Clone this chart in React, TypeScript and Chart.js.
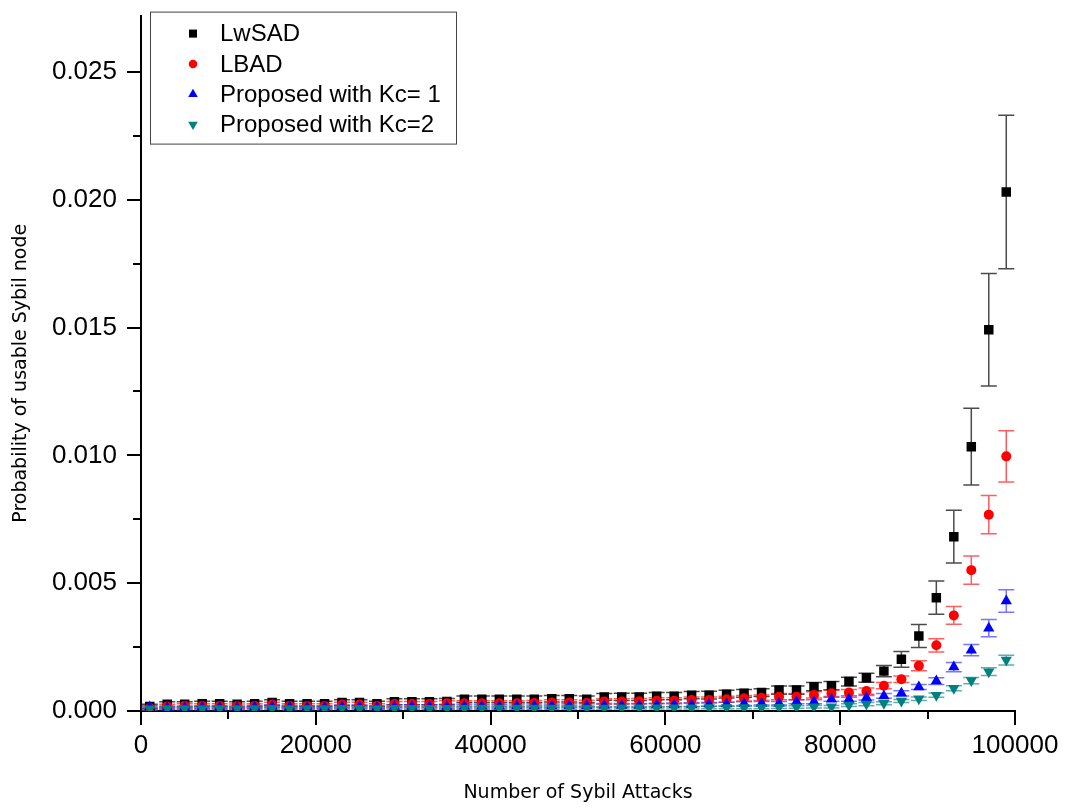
import React, { useEffect, useRef } from 'react';
import { Chart, registerables } from 'chart.js';
import { drawPoint } from 'chart.js/helpers';

Chart.register(...registerables);

// Number of Sybil attacks (x positions of every measurement)
const attacks = [
  1000, 3000, 5000, 7000, 9000, 11000, 13000, 15000, 17000, 19000,
  21000, 23000, 25000, 27000, 29000, 31000, 33000, 35000, 37000, 39000,
  41000, 43000, 45000, 47000, 49000, 51000, 53000, 55000, 57000, 59000,
  61000, 63000, 65000, 67000, 69000, 71000, 73000, 75000, 77000, 79000,
  81000, 83000, 85000, 87000, 89000, 91000, 93000, 95000, 97000, 99000,
];

// Probability of a usable Sybil node, per scheme
const lwsad = [
  0.00018, 0.00026, 0.00026, 0.00028, 0.00028, 0.00026, 0.00028, 0.00033, 0.00028, 0.00028,
  0.00028, 0.00033, 0.00033, 0.00028, 0.00036, 0.00036, 0.00036, 0.00037, 0.00046, 0.00046,
  0.00046, 0.00046, 0.00046, 0.00048, 0.00048, 0.00046, 0.00055, 0.00055, 0.00055, 0.00058,
  0.00058, 0.00062, 0.00062, 0.00066, 0.00069, 0.00072, 0.00082, 0.00082, 0.00095, 0.00099,
  0.00115, 0.0013, 0.00156, 0.00202, 0.00293, 0.00443, 0.00682, 0.01034, 0.01491, 0.0203,
];
const lwsadErr = [
  0.00008, 0.0001, 0.0001, 0.0001, 0.0001, 0.0001, 0.0001, 0.00011, 0.0001, 0.0001,
  0.0001, 0.00011, 0.00011, 0.0001, 0.00012, 0.00012, 0.00012, 0.00012, 0.00013, 0.00013,
  0.00013, 0.00013, 0.00013, 0.00013, 0.00013, 0.00013, 0.00013, 0.00014, 0.00014, 0.00014,
  0.00014, 0.00014, 0.00015, 0.00015, 0.00015, 0.00015, 0.00016, 0.00016, 0.00016, 0.00016,
  0.00017, 0.00018, 0.00022, 0.00031, 0.00045, 0.00065, 0.00103, 0.0015, 0.0022, 0.003,
];

const lbad = [
  0.00012, 0.00018, 0.0002, 0.0002, 0.0002, 0.00019, 0.0002, 0.00025, 0.0002, 0.0002,
  0.0002, 0.00025, 0.00025, 0.0002, 0.00027, 0.00027, 0.00027, 0.0003, 0.0003, 0.0003,
  0.0003, 0.0003, 0.00031, 0.00033, 0.00033, 0.00031, 0.00037, 0.00037, 0.00038, 0.0004,
  0.0004, 0.00043, 0.00043, 0.00046, 0.0005, 0.00052, 0.00056, 0.00056, 0.00063, 0.00069,
  0.00072, 0.00078, 0.00099, 0.00124, 0.00177, 0.00257, 0.00374, 0.00551, 0.00768, 0.00996,
];
const lbadErr = [
  0.00006, 0.00008, 0.00008, 0.00008, 0.00008, 0.00008, 0.00008, 0.00009, 0.00008, 0.00008,
  0.00008, 0.00009, 0.00009, 0.00008, 0.0001, 0.0001, 0.0001, 0.0001, 0.0001, 0.0001,
  0.0001, 0.0001, 0.0001, 0.00011, 0.00011, 0.00011, 0.00011, 0.00011, 0.00011, 0.00012,
  0.00012, 0.00012, 0.00012, 0.00012, 0.00011, 0.00011, 0.00012, 0.00012, 0.00012, 0.00012,
  0.00012, 0.00012, 0.00012, 0.00013, 0.0002, 0.00026, 0.00035, 0.00055, 0.00075, 0.001,
];

const kc1 = [
  0.00016, 0.00014, 0.00014, 0.00015, 0.00015, 0.00014, 0.00016, 0.00018, 0.00016, 0.00015,
  0.00015, 0.00017, 0.00017, 0.00015, 0.00018, 0.00018, 0.00018, 0.00018, 0.00019, 0.00019,
  0.00019, 0.0002, 0.0002, 0.0002, 0.00021, 0.00021, 0.00022, 0.00022, 0.00022, 0.00023,
  0.00024, 0.00024, 0.00026, 0.00027, 0.00029, 0.0003, 0.0003, 0.00036, 0.00036, 0.00046,
  0.00046, 0.00052, 0.00059, 0.00069, 0.00094, 0.00117, 0.00172, 0.00238, 0.00324, 0.0043,
];
const kc1Err = [
  0.00006, 0.00006, 0.00006, 0.00006, 0.00006, 0.00006, 0.00006, 0.00006, 0.00006, 0.00006,
  0.00006, 0.00006, 0.00006, 0.00006, 0.00006, 0.00006, 0.00006, 0.00007, 0.00007, 0.00007,
  0.00007, 0.00007, 0.00007, 0.00007, 0.00007, 0.00007, 0.00007, 0.00007, 0.00007, 0.00007,
  0.00007, 0.00007, 0.00007, 0.00007, 0.00007, 0.00007, 0.00007, 0.00008, 0.00008, 0.00008,
  0.00008, 0.00009, 0.00009, 0.0001, 0.0001, 0.00013, 0.00018, 0.00022, 0.00034, 0.00044,
];

const kc2 = [
  0.00009, 0.0001, 0.0001, 0.0001, 0.0001, 0.0001, 0.0001, 0.00011, 0.0001, 0.0001,
  0.0001, 0.00011, 0.00011, 0.0001, 0.00011, 0.00011, 0.00011, 0.00011, 0.00012, 0.00012,
  0.00012, 0.00012, 0.00012, 0.00012, 0.00012, 0.00012, 0.00012, 0.00013, 0.00013, 0.00013,
  0.00013, 0.00013, 0.00014, 0.00014, 0.00014, 0.00014, 0.00015, 0.00016, 0.00017, 0.00017,
  0.00023, 0.00027, 0.0003, 0.00039, 0.00048, 0.00062, 0.00089, 0.00119, 0.00154, 0.00199,
];
const kc2Err = [
  0.00005, 0.00005, 0.00005, 0.00005, 0.00005, 0.00005, 0.00005, 0.00005, 0.00005, 0.00005,
  0.00005, 0.00005, 0.00005, 0.00005, 0.00005, 0.00005, 0.00005, 0.00005, 0.00005, 0.00005,
  0.00005, 0.00005, 0.00005, 0.00005, 0.00005, 0.00005, 0.00005, 0.00005, 0.00005, 0.00005,
  0.00005, 0.00005, 0.00005, 0.00005, 0.00005, 0.00005, 0.00005, 0.00005, 0.00005, 0.00005,
  0.00005, 0.00006, 0.00006, 0.00006, 0.00007, 0.00008, 0.0001, 0.00012, 0.00015, 0.00019,
];

const seriesLabels = ['LwSAD', 'LBAD', 'Proposed with Kc= 1', 'Proposed with Kc=2'];
const seriesValues = [lwsad, lbad, kc1, kc2];
const seriesErrors = [lwsadErr, lbadErr, kc1Err, kc2Err];
const seriesColors = ['#000000', '#ff0000', '#0000ff', '#008080'];
const errorColors = [
  'rgba(30,30,30,0.8)',
  'rgba(255,40,40,0.75)',
  'rgba(60,60,255,0.7)',
  'rgba(30,140,140,0.7)',
];
const pointStyles = ['rect', 'circle', 'triangle', 'triangle'] as const;
const pointRadii = [6.7, 5, 6.5, 6.5];
const pointRotations = [0, 0, 0, 180];

const xTitle = 'Number of Sybil Attacks';
const yTitle = 'Probability of usable Sybil node';

const X_MAX = 100000;
const X_STEP = 10000;
const X_LABEL_STEP = 20000;
const Y_MAX = 0.0272;
const Y_STEP = 0.0025;
const Y_LABEL_STEP = 0.005;

const labelFont = "'Liberation Sans', Arial, sans-serif";
const titleFont = "'DejaVu Sans', Verdana, sans-serif";

const isMultiple = (v: number, step: number) =>
  Math.abs(Math.round(v / step) * step - v) < step * 1e-6;

// Vertical error bars with caps, drawn under the markers
const errorBars = {
  id: 'errorBars',
  beforeDatasetsDraw(chart: any) {
    const { ctx } = chart;
    const xs = chart.scales.x;
    const ys = chart.scales.y;
    ctx.save();
    ctx.lineWidth = 1.5;
    chart.data.datasets.forEach((ds: any, i: number) => {
      const errs = seriesErrors[i];
      ctx.strokeStyle = errorColors[i];
      ctx.beginPath();
      ds.data.forEach((p: any, j: number) => {
        const px = xs.getPixelForValue(p.x);
        const top = ys.getPixelForValue(p.y + errs[j]);
        const bot = ys.getPixelForValue(Math.max(0, p.y - errs[j]));
        ctx.moveTo(px, top);
        ctx.lineTo(px, bot);
        ctx.moveTo(px - 8, top);
        ctx.lineTo(px + 8, top);
        ctx.moveTo(px - 8, bot);
        ctx.lineTo(px + 8, bot);
      });
      ctx.stroke();
    });
    ctx.restore();
  },
};

// Outward tick marks (long on labelled ticks, short between them), y title and the legend box
const axisDecor = {
  id: 'axisDecor',
  afterDraw(chart: any) {
    const { ctx, chartArea } = chart;
    const xs = chart.scales.x;
    const ys = chart.scales.y;
    ctx.save();
    ctx.strokeStyle = '#000';
    ctx.lineWidth = 2;
    ctx.beginPath();
    xs.ticks.forEach((t: any) => {
      const px = Math.round(xs.getPixelForValue(t.value));
      const len = isMultiple(t.value, X_LABEL_STEP) ? 14 : 8;
      ctx.moveTo(px, chartArea.bottom);
      ctx.lineTo(px, chartArea.bottom + len);
    });
    ys.ticks.forEach((t: any) => {
      const py = Math.round(ys.getPixelForValue(t.value));
      const len = isMultiple(t.value, Y_LABEL_STEP) ? 14 : 8;
      ctx.moveTo(chartArea.left, py);
      ctx.lineTo(chartArea.left - len, py);
    });
    ctx.stroke();

    // y axis title
    ctx.save();
    ctx.translate(21, (chartArea.top + chartArea.bottom) / 2 + 10);
    ctx.rotate(-Math.PI / 2);
    ctx.fillStyle = '#000';
    ctx.font = `19px ${titleFont}`;
    ctx.textAlign = 'center';
    ctx.textBaseline = 'middle';
    ctx.fillText(yTitle, 0, 0);
    ctx.restore();

    // legend
    const bx = chartArea.left + 9;
    const by = chartArea.top - 4;
    const bw = 306;
    const bh = 132;
    ctx.fillStyle = '#fff';
    ctx.fillRect(bx, by, bw, bh);
    ctx.strokeStyle = '#444';
    ctx.lineWidth = 1;
    ctx.strokeRect(bx + 0.5, by + 0.5, bw, bh);
    ctx.font = `24px ${labelFont}`;
    ctx.textBaseline = 'middle';
    ctx.textAlign = 'left';
    chart.data.datasets.forEach((ds: any, i: number) => {
      const cy = by + 22 + i * 30.3;
      ctx.fillStyle = ds.backgroundColor;
      drawPoint(ctx, {
        pointStyle: ds.pointStyle,
        radius: ds.pointRadius * 0.85,
        rotation: ds.rotation,
        borderWidth: 0,
      } as any, bx + 43, cy);
      ctx.fillStyle = '#000';
      ctx.fillText(ds.label, bx + 70, cy + 1);
    });
    ctx.restore();
  },
};

export default function App() {
  const canvasRef = useRef<HTMLCanvasElement | null>(null);

  useEffect(() => {
    if (!canvasRef.current) return;
    const datasets = seriesValues.map((vals, i) => ({
      label: seriesLabels[i],
      data: attacks.map((x, j) => ({ x, y: vals[j] })),
      backgroundColor: seriesColors[i],
      borderColor: seriesColors[i],
      borderWidth: 0,
      pointStyle: pointStyles[i],
      pointRadius: pointRadii[i],
      pointHoverRadius: pointRadii[i],
      rotation: pointRotations[i],
      showLine: false,
      order: 3 - i,
    }));

    const chart = new Chart(canvasRef.current, {
      type: 'scatter',
      data: { datasets },
      options: {
        animation: false,
        responsive: false,
        layout: { padding: { left: 0, right: 53, top: 15, bottom: 0 } },
        plugins: {
          legend: { display: false },
          tooltip: { enabled: false },
        },
        scales: {
          x: {
            type: 'linear',
            min: 0,
            max: X_MAX,
            // invisible tick marks only reserve space between axis and labels
            grid: { display: true, drawOnChartArea: false, drawTicks: true, tickLength: 19, tickColor: 'rgba(0,0,0,0)' },
            border: { display: true, color: '#000', width: 2 },
            ticks: {
              stepSize: X_STEP,
              autoSkip: false,
              maxRotation: 0,
              includeBounds: false,
              padding: 0,
              color: '#000',
              font: { family: labelFont, size: 26 },
              callback: (v: any) => (isMultiple(Number(v), X_LABEL_STEP) ? String(v) : ''),
            },
            title: {
              display: true,
              text: xTitle,
              color: '#000',
              font: { family: titleFont, size: 19 },
              padding: { top: 0, bottom: 4 },
            },
            afterFit: (scale: any) => {
              scale.height = 97;
            },
          },
          y: {
            type: 'linear',
            min: 0,
            max: Y_MAX,
            grid: { display: true, drawOnChartArea: false, drawTicks: true, tickLength: 24, tickColor: 'rgba(0,0,0,0)' },
            border: { display: true, color: '#000', width: 2 },
            ticks: {
              stepSize: Y_STEP,
              autoSkip: false,
              includeBounds: false,
              padding: 0,
              color: '#000',
              font: { family: labelFont, size: 26 },
              callback: (v: any) =>
                isMultiple(Number(v), Y_LABEL_STEP) ? Number(v).toFixed(3) : '',
            },
            title: { display: false },
            afterFit: (scale: any) => {
              scale.width = 141;
            },
          },
        },
      },
      plugins: [errorBars, axisDecor],
    } as any);

    return () => chart.destroy();
  }, []);

  return (
    <div style={{ position: 'fixed', left: 0, top: 0, width: 1068, height: 808, background: '#fff' }}>
      <canvas ref={canvasRef} width={1068} height={808} style={{ display: 'block' }} />
    </div>
  );
}
